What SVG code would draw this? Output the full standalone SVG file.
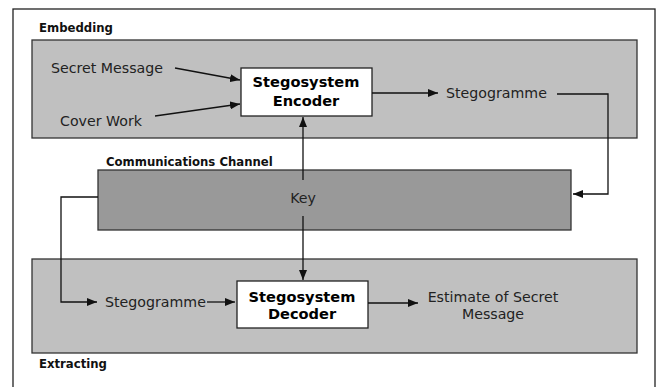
<svg xmlns="http://www.w3.org/2000/svg" width="659" height="387" viewBox="0 0 659 387">
<defs>
<marker id="ah" viewBox="0 0 10 8" refX="10" refY="4" markerWidth="10" markerHeight="8" markerUnits="userSpaceOnUse" orient="auto">
<path d="M0,0 L10,4 L0,8 z" fill="#111"/>
</marker>
</defs>
<style>
.t{font-family:"DejaVu Sans",Verdana,sans-serif;font-size:14.2px;fill:#222}
.b{font-family:"DejaVu Sans",Verdana,sans-serif;font-weight:bold;font-size:11.7px;fill:#111}
.bb{font-family:"DejaVu Sans",Verdana,sans-serif;font-weight:bold;font-size:14.6px;fill:#000}
.panel{fill:#c0c0c0;stroke:#333;stroke-width:1.3}
.chan{fill:#999999;stroke:#333;stroke-width:1.3}
.box{fill:#fff;stroke:#222;stroke-width:1.3}
.c{fill:none;stroke:#111;stroke-width:1.3}
</style>
<rect width="659" height="387" fill="#fff"/>
<rect x="13" y="9" width="642" height="390" fill="none" stroke="#222" stroke-width="1.3"/>
<g id="embedding">
<rect class="panel" x="32" y="40" width="605" height="98"/>
<text class="b" x="39" y="32">Embedding</text>
</g>
<g id="extracting">
<rect class="panel" x="32" y="259" width="605" height="94"/>
<text class="b" x="39" y="368">Extracting</text>
</g>
<g id="channel">
<rect class="chan" x="98" y="170" width="473" height="60"/>
<text class="b" x="106" y="166">Communications Channel</text>
<text class="t" x="303" y="203" text-anchor="middle">Key</text>
</g>
<g id="secret-message"><text class="t" x="51" y="73">Secret Message</text></g>
<g id="cover-work"><text class="t" x="60" y="126">Cover Work</text></g>
<g id="encoder">
<rect class="box" x="241" y="68" width="131" height="48"/>
<text class="bb" x="306" y="87" text-anchor="middle">Stegosystem</text>
<text class="bb" x="306" y="106" text-anchor="middle">Encoder</text>
</g>
<g id="stegogramme-out"><text class="t" x="446" y="98">Stegogramme</text></g>
<g id="stegogramme-in"><text class="t" x="105" y="307">Stegogramme</text></g>
<g id="decoder">
<rect class="box" x="237" y="281" width="131" height="47"/>
<text class="bb" x="302" y="302" text-anchor="middle">Stegosystem</text>
<text class="bb" x="302" y="319" text-anchor="middle">Decoder</text>
</g>
<g id="estimate">
<text class="t" x="493" y="302" text-anchor="middle">Estimate of Secret</text>
<text class="t" x="493" y="319" text-anchor="middle">Message</text>
</g>
<g id="connectors">
<line class="c" x1="175" y1="68" x2="240" y2="80" marker-end="url(#ah)"/>
<line class="c" x1="155" y1="116" x2="240" y2="104" marker-end="url(#ah)"/>
<line class="c" x1="372" y1="93" x2="438" y2="93" marker-end="url(#ah)"/>
<polyline class="c" points="557,94 608,94 608,194 573,194" marker-end="url(#ah)"/>
<line class="c" x1="303" y1="180" x2="303" y2="117" marker-end="url(#ah)"/>
<line class="c" x1="303" y1="216" x2="303" y2="280" marker-end="url(#ah)"/>
<polyline class="c" points="98,197 61,197 61,302 97,302" marker-end="url(#ah)"/>
<line class="c" x1="207" y1="302" x2="235" y2="302" marker-end="url(#ah)"/>
<line class="c" x1="368" y1="303" x2="418" y2="303" marker-end="url(#ah)"/>
</g>
</svg>
